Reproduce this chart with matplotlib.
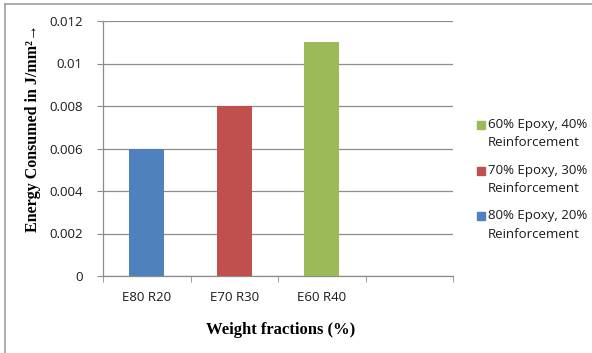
import matplotlib.pyplot as plt
from matplotlib.lines import Line2D
from matplotlib.patches import Rectangle

# Energy consumed per unit area for each epoxy/reinforcement mix
categories = ["E80 R20", "E70 R30", "E60 R40", ""]
energy = [0.006, 0.008, 0.011]
series_labels = ["80% Epoxy, 20%\nReinforcement",
                 "70% Epoxy, 30%\nReinforcement",
                 "60% Epoxy, 40%\nReinforcement"]
colors = ["#4F81BD", "#C0504D", "#9BBB59"]
yticks = [0, 0.002, 0.004, 0.006, 0.008, 0.01, 0.012]
ytick_labels = ["0", "0.002", "0.004", "0.006", "0.008", "0.01", "0.012"]

W, H = 592, 353
axis_gray = "#8C8C8C"
sans = ["Open Sans", "DejaVu Sans"]
serif = ["Liberation Serif", "DejaVu Serif"]

fig = plt.figure(figsize=(W / 100, H / 100), dpi=100)
ax = fig.add_axes([103 / W, 1 - 276 / H, 350 / W, 255 / H])

for i, (val, col) in enumerate(zip(energy, colors)):
    ax.bar(i, val, width=0.4, color=col, zorder=3)

ax.set_xlim(-0.5, len(categories) - 0.5)
ax.set_ylim(0, 0.012)

ax.set_yticks(yticks)
ax.set_yticklabels(ytick_labels, fontfamily=sans, fontsize=9.5, color="#1A1A1A")
ax.yaxis.grid(True, color=axis_gray, linewidth=0.9, zorder=0)
ax.tick_params(axis="y", length=4.5, color=axis_gray, pad=10)

ax.set_xticks(range(len(categories)))
ax.set_xticklabels(categories, fontfamily=sans, fontsize=9.5, color="#1A1A1A")
ax.set_xticks([x - 0.5 for x in range(len(categories) + 1)], minor=True)
ax.tick_params(axis="x", which="major", length=0, pad=11)
ax.tick_params(axis="x", which="minor", length=4.5, color=axis_gray)

for side in ["top", "right"]:
    ax.spines[side].set_visible(False)
for side in ["left", "bottom"]:
    ax.spines[side].set_color(axis_gray)
    ax.spines[side].set_linewidth(0.9)

fig.text(33 / W, 1 - 128 / H, "Energy Consumed in J/mm²→",
         rotation=90, ha="center", va="center", fontfamily=serif,
         fontweight="bold", fontsize=11.5)
fig.text(281 / W, 1 - 330 / H, "Weight fractions (%)",
         ha="center", va="center", fontfamily=serif,
         fontweight="bold", fontsize=12)

# Legend drawn by hand so the swatch sits on the first text line;
# entries run top-down in reverse series order
for k, (label, col) in enumerate(zip(series_labels[::-1], colors[::-1])):
    y = 125 + 45.5 * k
    fig.add_artist(Rectangle((477 / W, 1 - (y + 4) / H), 8 / W, 8 / H,
                             transform=fig.transFigure, color=col))
    first, second = label.split("\n")
    fig.text(488 / W, 1 - y / H, first, ha="left", va="center",
             fontfamily=sans, fontsize=9.5, color="#1A1A1A")
    fig.text(488 / W, 1 - (y + 18) / H, second, ha="left", va="center",
             fontfamily=sans, fontsize=9.5, color="#1A1A1A")

# Chart frame along top and left edges
fig.add_artist(Line2D([5 / W, 1], [1 - 4 / H] * 2, color="#A0A0A0", lw=1.2))
fig.add_artist(Line2D([5 / W] * 2, [0, 1 - 4 / H], color="#A0A0A0", lw=1.2))

fig.savefig("out.png", dpi=100)
